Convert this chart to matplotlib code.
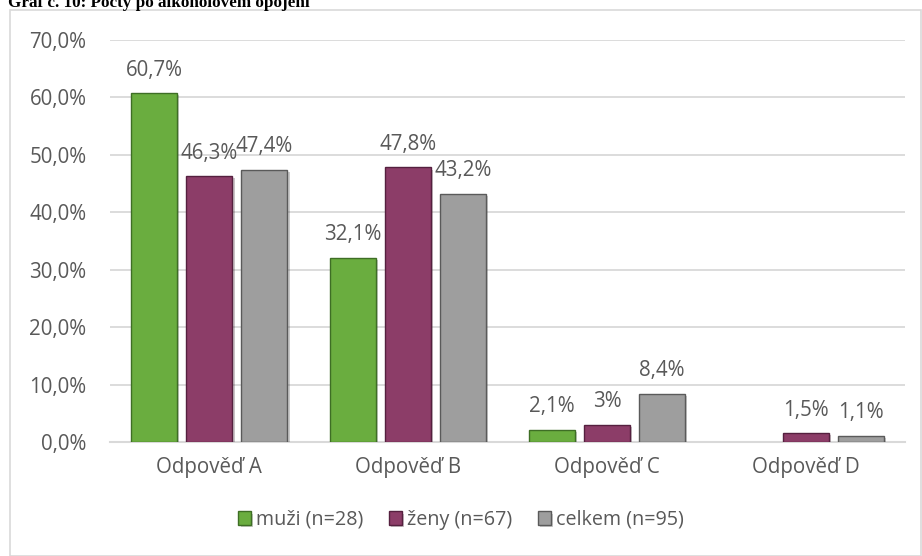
import matplotlib

matplotlib.use("Agg")
import matplotlib.pyplot as plt
import matplotlib.patheffects as pe
import numpy as np
from matplotlib.patches import Rectangle

plt.rcParams["font.family"] = ["Open Sans", "DejaVu Sans"]

categories = ["Odpověď A", "Odpověď B", "Odpověď C", "Odpověď D"]
series_names = ["muži (n=28)", "ženy (n=67)", "celkem (n=95)"]
muzi = [60.7, 32.1, 2.1, np.nan]
zeny = [46.3, 47.8, 3.0, 1.5]
celkem = [47.4, 43.2, 8.4, 1.1]
muzi_labels = ["60,7%", "32,1%", "2,1%", ""]
zeny_labels = ["46,3%", "47,8%", "3%", "1,5%"]
celkem_labels = ["47,4%", "43,2%", "8,4%", "1,1%"]
yticks = [0, 10, 20, 30, 40, 50, 60, 70]

colors = ["#6AAD3F", "#8C3D68", "#9E9E9E"]
edges = ["#3E6E25", "#55203F", "#5A5A5A"]
text_col = "#595959"
grid_col = "#D9D9D9"
fs = 14.8

W, H = 922, 556
fig = plt.figure(figsize=(W / 100, H / 100), dpi=100)

# outer chart frame
fig.patches.append(Rectangle((10 / W, 0), (W - 11) / W, 1 - 10 / H,
                             transform=fig.transFigure, fill=False,
                             edgecolor=grid_col, linewidth=1.2))
fig.text(8 / W, 1 - 7 / H, "Graf č. 10: Počty po alkoholovém opojení",
         family="Liberation Serif", weight="bold", fontsize=12.3, va="baseline",
         ha="left", color="black")

ax = fig.add_axes([110 / W, 1 - 442 / H, (905 - 110) / W, (442 - 40) / H])
x = np.arange(len(categories))
width = 0.232
step = 0.277
shadow = [pe.SimplePatchShadow(offset=(1.5, -1.5), alpha=0.25), pe.Normal()]

for i, (vals, labels) in enumerate([(muzi, muzi_labels), (zeny, zeny_labels),
                                     (celkem, celkem_labels)]):
    bars = ax.bar(x + (i - 1) * step, vals, width, color=colors[i],
                  edgecolor=edges[i], linewidth=1.0, label=series_names[i],
                  zorder=3)
    for b in bars:
        b.set_path_effects(shadow)
    ax.bar_label(bars, labels=labels, padding=9, fontsize=fs, color=text_col)

ax.set_xlim(-0.5, len(categories) - 0.5)
ax.set_ylim(0, 70)
ax.set_yticks(yticks)
ax.set_yticklabels([f"{v:.1f}%".replace(".", ",") for v in yticks])
ax.set_xticks(x)
ax.set_xticklabels(categories)
ax.tick_params(length=0, labelsize=fs, labelcolor=text_col)
ax.tick_params(axis="y", pad=17)
ax.tick_params(axis="x", pad=11)
ax.yaxis.grid(True, color=grid_col, linewidth=1.3, zorder=0)
ax.set_axisbelow(True)
for s in ["top", "right", "left"]:
    ax.spines[s].set_visible(False)
ax.spines["bottom"].set_color(grid_col)
ax.spines["bottom"].set_linewidth(1.5)

fig.legend(loc="center", bbox_to_anchor=(0.5, 1 - 520 / H), ncol=3,
           frameon=False, fontsize=14.2, labelcolor=text_col,
           handlelength=0.65, handleheight=0.65, handletextpad=0.25,
           columnspacing=1.3)

fig.savefig("out.png", dpi=100)
